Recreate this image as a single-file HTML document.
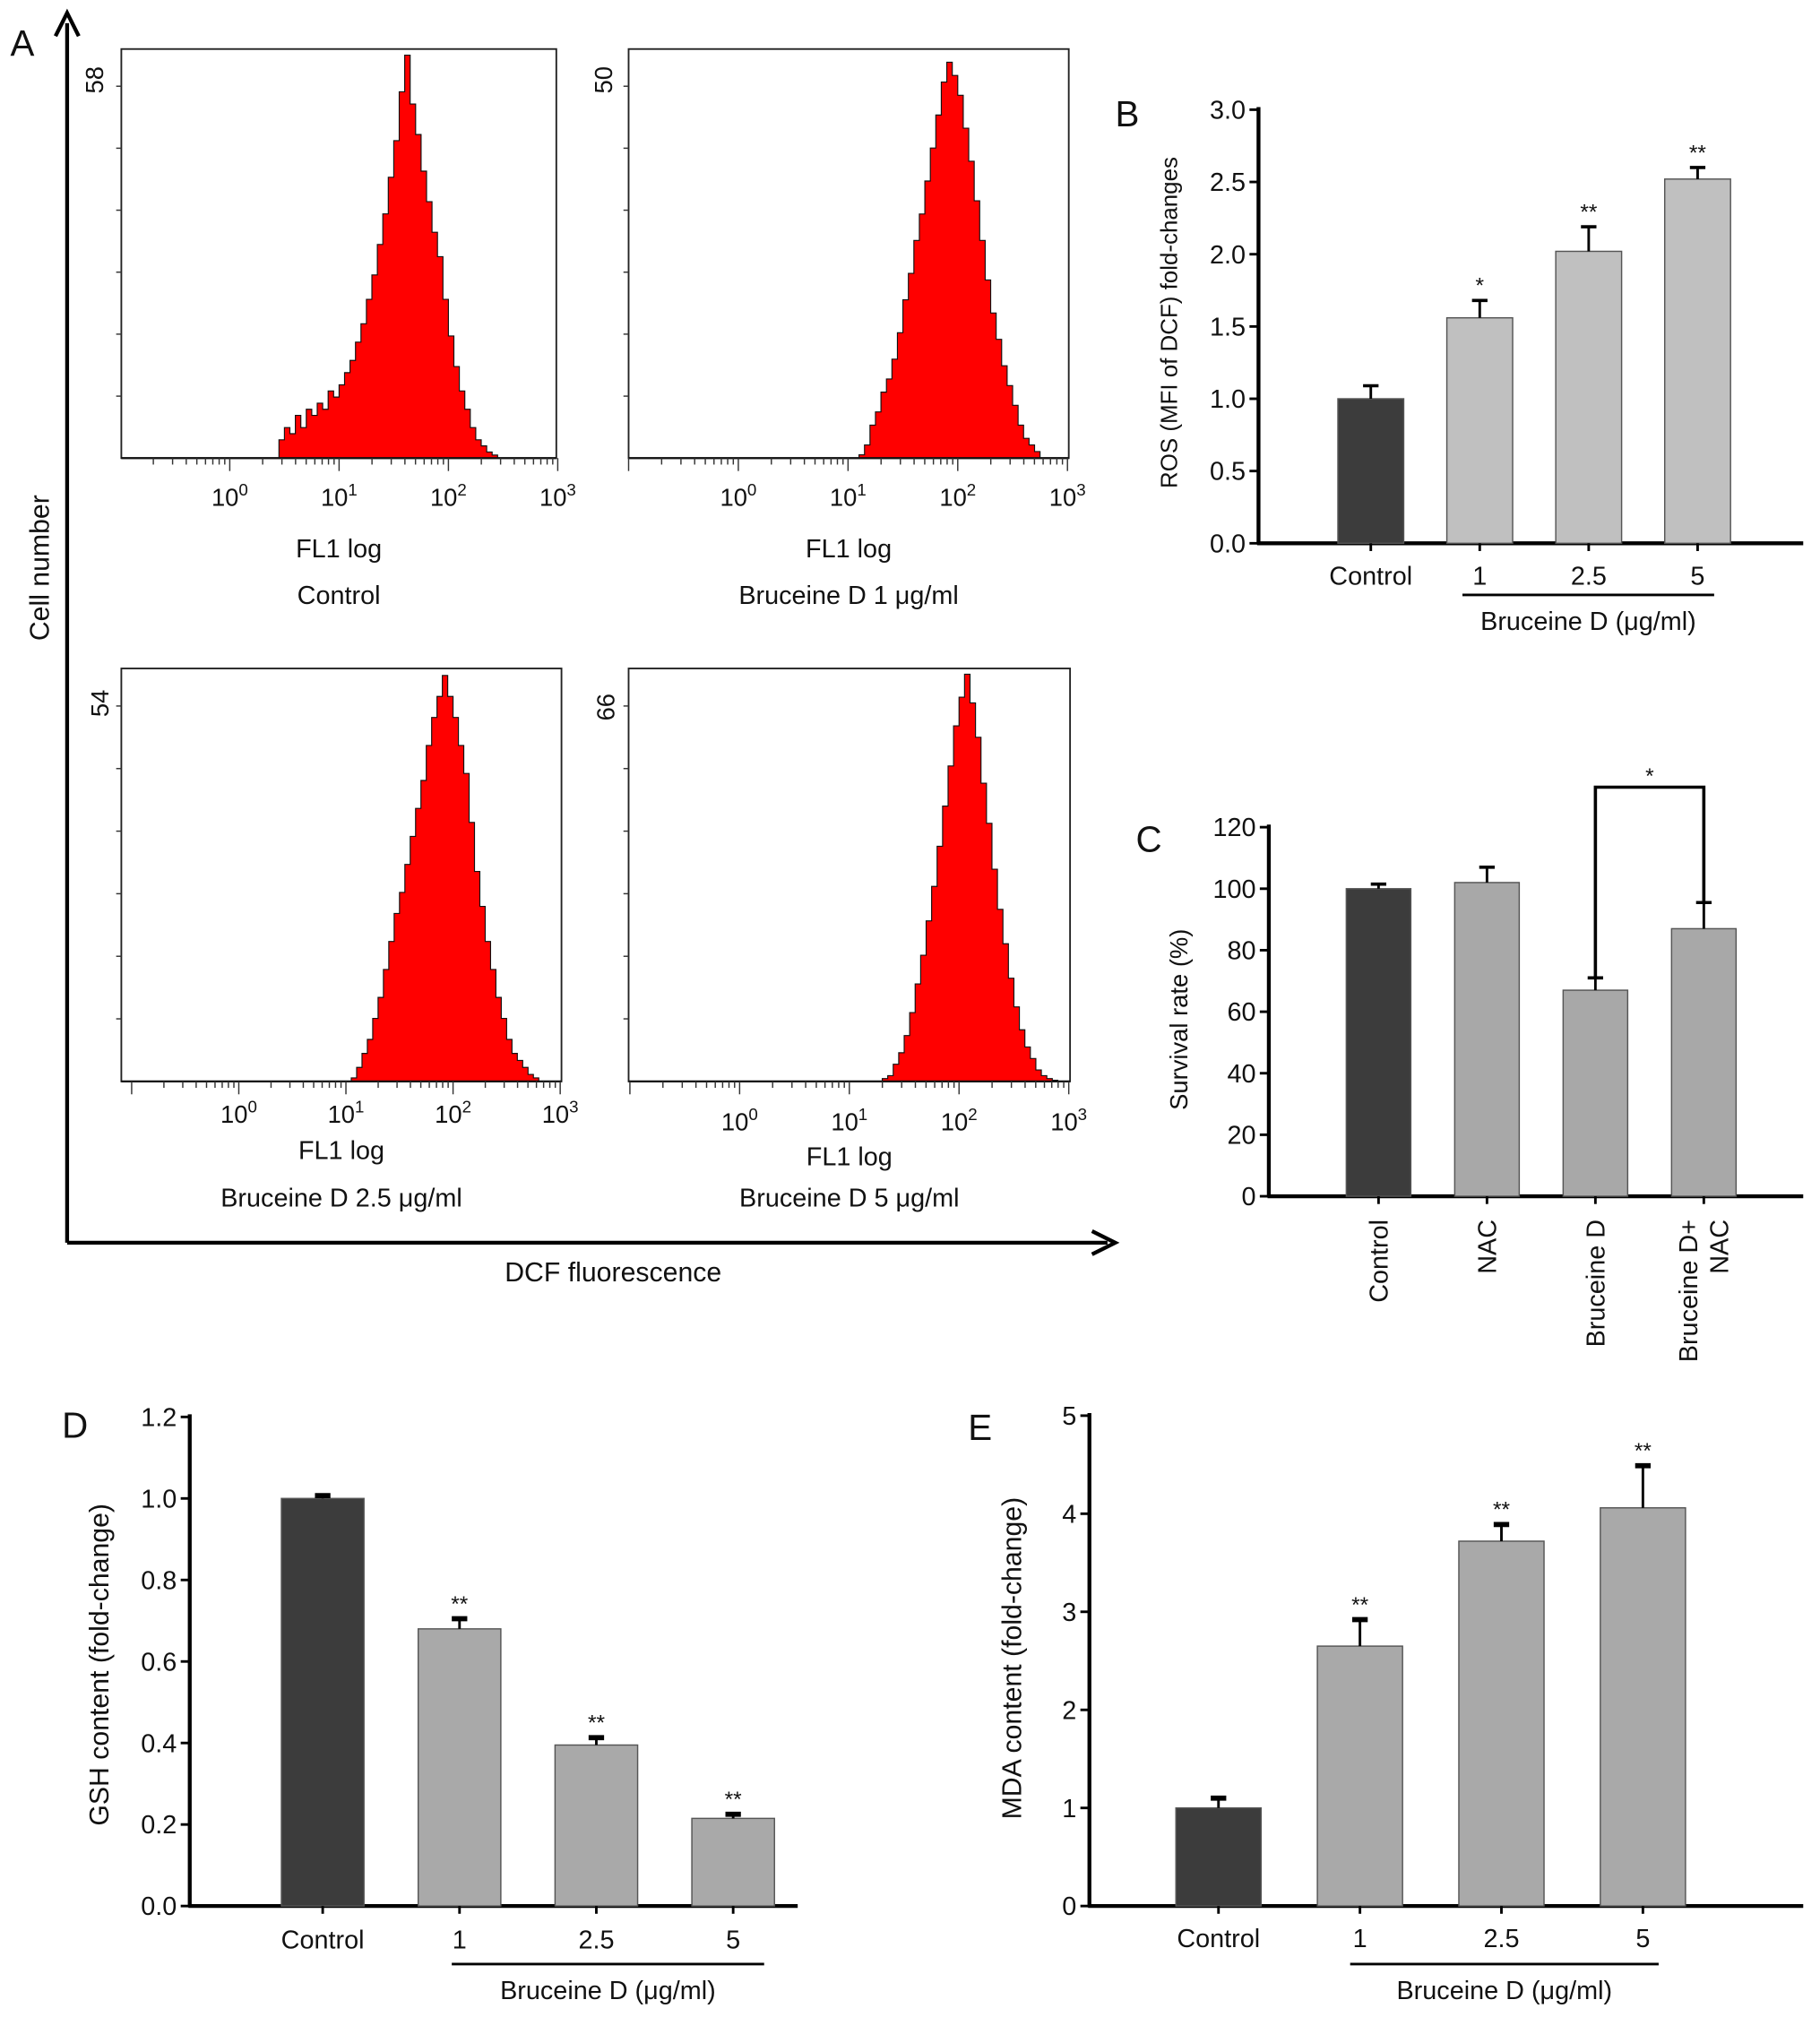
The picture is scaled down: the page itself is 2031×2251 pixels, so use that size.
<!DOCTYPE html>
<html><head><meta charset="utf-8">
<style>
html,body{margin:0;padding:0;background:#fff;}
svg{display:block;}
text{font-family:"Liberation Sans",Arial,sans-serif;fill:#111;}
.n{font-family:"Liberation Sans Narrow","Liberation Sans",sans-serif;}
</style></head>
<body>
<svg id="fig" xmlns="http://www.w3.org/2000/svg" width="2031" height="2251" viewBox="0 0 1410 1563" preserveAspectRatio="none">
  <g>
    <line x1="52" y1="963" x2="52" y2="18" stroke="#000" stroke-width="3"/>
    <path d="M43,28 L52,10 L61,28" fill="none" stroke="#000" stroke-width="3"/>
    <line x1="52" y1="963" x2="858" y2="963" stroke="#000" stroke-width="3"/>
    <path d="M846,954 L864,963 L846,972" fill="none" stroke="#000" stroke-width="3"/>
    <text x="8" y="43" font-size="28">A</text>
    <text transform="translate(38,440) rotate(-90)" text-anchor="middle" font-size="21">Cell number</text>
    <text x="475" y="993" text-anchor="middle" font-size="21">DCF fluorescence</text>
  </g>
  <g id="hists"></g>
  <g id="bars"></g>
</svg>
<script>
// ---------- Histogram data (panel A) ----------
const hist1Start = 0.45, hist1Step = 0.05;
const hist1Counts = [3,5,4,7,5,8,7,9,8,11,10,12,14,16,19,22,26,30,35,40,46,52,60,66,58,53,47,42,37,33,26,20,15,11,8,5,3,2,1,0.5,0];
const hist2Start = 1.1, hist2Step = 0.05;
const hist2Counts = [0.5,2,5,7,10,12,15,19,24,28,33,37,42,47,52,57,60,58,55,50,45,39,33,27,22,18,14,11,8,5,3,2,1,0];
const hist3Start = 1.05, hist3Step = 0.05;
const hist3Counts = [0.5,2,4,6,9,12,16,20,24,27,31,35,39,43,48,52,55,58,55,52,48,44,37,30,25,20,16,12,9,6,4,3,2,1,0.5,0];
const hist4Start = 1.3, hist4Step = 0.05;
const hist4Counts = [0.5,1,3,5,8,12,17,22,28,34,41,48,55,62,67,71,66,60,52,45,37,30,24,18,13,9,6,4,2,1,0.5,0.2,0];
const histYLabels = ["58","50","54","66"];
const histNames = ["Control","Bruceine D 1 μg/ml","Bruceine D 2.5 μg/ml","Bruceine D 5 μg/ml"];
const decadeLabels = ["0","1","2","3"];

// ---------- Bar chart data ----------
const bCats = ["Control","1","2.5","5"];
const bVals = [1.0,1.56,2.02,2.52];
const bErrs = [0.09,0.12,0.17,0.08];
const bStars = ["","*","**","**"];
const bTicks = ["0.0","0.5","1.0","1.5","2.0","2.5","3.0"];

const cCats = ["Control","NAC","Bruceine D","Bruceine D+|NAC"];
const cVals = [100,102,67,87];
const cErrs = [1.5,5,4,8.5];
const cTicks = ["0","20","40","60","80","100","120"];

const dCats = ["Control","1","2.5","5"];
const dVals = [1.0,0.68,0.395,0.215];
const dErrs = [0.007,0.025,0.018,0.01];
const dStars = ["","**","**","**"];
const dTicks = ["0.0","0.2","0.4","0.6","0.8","1.0","1.2"];

const eCats = ["Control","1","2.5","5"];
const eVals = [1.0,2.65,3.72,4.06];
const eErrs = [0.1,0.27,0.17,0.43];
const eStars = ["","**","**","**"];
const eTicks = ["0","1","2","3","4","5"];

const NS="http://www.w3.org/2000/svg";
function mk(tag, attrs, parent, txt){
  const e=document.createElementNS(NS,tag);
  for(const k in attrs) e.setAttribute(k,attrs[k]);
  if(txt!==undefined) e.textContent=txt;
  parent.appendChild(e); return e;
}

// ---------- Histograms ----------
const hg=document.getElementById('hists');
const histCfg=[
  {counts:hist1Counts,start:hist1Start,step:hist1Step,x0:94,x1:431,y0:38,y1:355,dec0:178,decW:84.7,ymax:67,ylab:histYLabels[0],yLabY:62,yLabX:72,name:histNames[0],labY:392,flY:432,nmY:468},
  {counts:hist2Counts,start:hist2Start,step:hist2Step,x0:487,x1:828,y0:38,y1:355,dec0:572,decW:85,ymax:62,ylab:histYLabels[1],yLabY:62,yLabX:466,name:histNames[1],labY:392,flY:432,nmY:468},
  {counts:hist3Counts,start:hist3Start,step:hist3Step,x0:94,x1:435,y0:518,y1:838,dec0:185,decW:83,ymax:59,ylab:histYLabels[2],yLabY:545,yLabX:76,name:histNames[2],labY:870,flY:898,nmY:935},
  {counts:hist4Counts,start:hist4Start,step:hist4Step,x0:487,x1:829,y0:518,y1:838,dec0:573,decW:85,ymax:72,ylab:histYLabels[3],yLabY:548,yLabX:468,name:histNames[3],labY:876,flY:903,nmY:935}
];
histCfg.forEach((c,hi)=>{
  const g=mk('g',{},hg);
  
  
  const xs=l=>c.dec0+l*c.decW;
  const ys=v=>c.y1-(v/c.ymax)*(c.y1-c.y0);
  const box=mk('rect',{x:c.x0,y:c.y0,width:c.x1-c.x0,height:c.y1-c.y0,fill:'none',stroke:'#222','stroke-width':1.3},g);
  
  
  // histogram step path
  let d='M'+xs(c.start)+','+c.y1;
  c.counts.forEach((v,i)=>{
    const l=c.start+i*c.step;
    d+=' L'+xs(l)+','+ys(v)+' L'+xs(l+c.step)+','+ys(v);
  });
  d+=' L'+xs(c.start+c.counts.length*c.step)+','+c.y1+' Z';
  const p=mk('path',{d:d,fill:'#ff0000',stroke:'#111','stroke-width':0.8},g);
  
  
  // bottom axis line thicker
  mk('line',{x1:c.x0,y1:c.y1,x2:c.x1,y2:c.y1,stroke:'#111','stroke-width':1.6},g);
  // log ticks
  for(let dcd=-1; dcd<3; dcd++){
    for(let m=1;m<=9;m++){
      const l=dcd+Math.log10(m);
      const x=xs(l);
      if(x<c.x0-0.5||x>c.x1+0.5) continue;
      mk('line',{x1:x,y1:c.y1,x2:x,y2:c.y1+(m===1?10:5),stroke:'#333','stroke-width':1},g);
    }
  }
  mk('line',{x1:xs(3),y1:c.y1,x2:xs(3),y2:c.y1+10,stroke:'#333','stroke-width':1},g);
  decadeLabels.forEach((lab,i)=>{
    const t=mk('text',{x:xs(i),y:c.labY,'text-anchor':'middle','font-size':19},g);
    mk('tspan',{},t,'10');
    mk('tspan',{dy:-8,'font-size':13},t,lab);
    
    
  });
  // left y ticks
  for(let k=1;k<=6;k++){
    const yv=c.y1-k*(c.y1-c.y0)/6.6;
    mk('line',{x1:c.x0-4,y1:yv,x2:c.x0,y2:yv,stroke:'#333','stroke-width':1},g);
  }
  const yl=mk('text',{transform:'translate('+(c.yLabX+8)+','+c.yLabY+') rotate(-90)','text-anchor':'middle','font-size':19},g,c.ylab);
  
  
  const mid=(c.x0+c.x1)/2;
  const fl=mk('text',{x:mid,y:c.flY,'text-anchor':'middle','font-size':20},g,'FL1 log');
  
  
  const nm=mk('text',{x:mid,y:c.nmY,'text-anchor':'middle','font-size':20},g,c.name);
  
  
});

// ---------- Bar charts ----------
const bg=document.getElementById('bars');
function barChart(o){
  const g=mk('g',{},bg);
  
  
  const ys=v=>o.y0-(v/o.ymax)*(o.y0-o.yTop);
  const cls=o.narrow?'n':'';
  // axes
  mk('line',{x1:o.ax,y1:o.yTop-2,x2:o.ax,y2:o.y0+1,stroke:'#000','stroke-width':3},g);
  mk('line',{x1:o.ax-1,y1:o.y0,x2:o.axEnd,y2:o.y0,stroke:'#000','stroke-width':3},g);
  o.ticks.forEach((t,i)=>{
    const v=i*o.ymax/(o.ticks.length-1);
    const y=ys(v);
    mk('line',{x1:o.ax-7,y1:y,x2:o.ax,y2:y,stroke:'#000','stroke-width':2},g);
    const tx=mk('text',{class:cls,x:o.ax-10,y:y+7,'text-anchor':'end','font-size':20},g,t);
    
    
  });
  o.vals.forEach((v,i)=>{
    const cx=o.c0+i*o.step;
    const top=ys(v);
    const r=mk('rect',{x:cx-o.bw/2,y:top,width:o.bw,height:o.y0-top,fill:i===0?'#3c3c3c':o.light,stroke:'#555','stroke-width':1},g);
    
    
    const et=ys(v+o.errs[i]);
    mk('line',{x1:cx,y1:top,x2:cx,y2:et,stroke:'#000','stroke-width':2},g);
    mk('line',{x1:cx-6,y1:et,x2:cx+6,y2:et,stroke:'#000','stroke-width':o.capW||2.5},g);
    mk('line',{x1:cx,y1:o.y0,x2:cx,y2:o.y0+6,stroke:'#000','stroke-width':2},g);
    if(o.stars&&o.stars[i]){
      const s=mk('text',{x:cx,y:et-6,'text-anchor':'middle','font-size':17,fill:'#555'},g,o.stars[i]);
      
      
    }
    if(o.rotLabels){
      const parts=o.cats[i].split('|');
      parts.forEach((pt,k)=>{
        const t=mk('text',{transform:'translate('+(cx+7+(k-(parts.length-1)/2)*24)+','+(o.y0+18)+') rotate(-90)','text-anchor':'end','font-size':20},g,pt);
        
        
      });
    } else {
      const t=mk('text',{class:cls,x:cx,y:o.labY,'text-anchor':'middle','font-size':20},g,o.cats[i]);
      
      
    }
  });
  if(o.under){
    mk('line',{x1:o.under[0],y1:o.under[1],x2:o.under[2],y2:o.under[1],stroke:'#000','stroke-width':2},g);
    const t=mk('text',{class:cls,x:(o.under[0]+o.under[2])/2,y:o.under[1]+27,'text-anchor':'middle','font-size':20},g,'Bruceine D (μg/ml)');
    
    
  }
  const yt=mk('text',{class:cls,transform:'translate('+o.ytX+','+o.ytY+') rotate(-90)','text-anchor':'middle','font-size':o.ytSize||19},g,o.ytitle);
  
  
  const pl=mk('text',{x:o.pX,y:o.pY,'font-size':28},g,o.panel);
  
  
  return {g,ys};
}
barChart({name:'chart-b',ax:975,y0:421,yTop:85,ymax:3,axEnd:1397,c0:1062,step:84.4,bw:51,vals:bVals,errs:bErrs,stars:bStars,cats:bCats,ticks:bTicks,light:'#c0c0c0',labY:453,under:[1133,461,1328],ytitle:'ROS (MFI of DCF) fold-changes',ytX:912,ytY:250,ytSize:18,panel:'B',pX:864,pY:98});
const C=barChart({name:'chart-c',ax:983,y0:927,yTop:641,ymax:120,axEnd:1397,c0:1068,step:84,bw:50,vals:cVals,errs:cErrs,cats:cCats,ticks:cTicks,light:'#a8a8a8',rotLabels:true,ytitle:'Survival rate (%)',ytX:920,ytY:790,panel:'C',pX:880,pY:660});
// significance bracket in C
(function(){
  const g=C.g;
  const x1=1068+2*84, x2=1068+3*84;
  const yb=610;
  const br=mk('path',{d:'M'+x1+','+C.ys(cVals[2]+cErrs[2])+' L'+x1+','+yb+' L'+x2+','+yb+' L'+x2+','+C.ys(cVals[3]+cErrs[3]),fill:'none',stroke:'#000','stroke-width':2.5},g);
  
  
  const s=mk('text',{x:(x1+x2)/2,y:yb-3,'text-anchor':'middle','font-size':17,fill:'#555'},g,'*');
  
  
})();
barChart({name:'chart-d',narrow:true,ax:147,y0:1477,yTop:1098,ymax:1.2,axEnd:618,c0:250,step:106,bw:64,vals:dVals,errs:dErrs,stars:dStars,cats:dCats,ticks:dTicks,light:'#a9a9a9',labY:1510,under:[350,1522,592],ytitle:'GSH content (fold-change)',ytX:84,ytY:1290,ytSize:21,panel:'D',pX:48,pY:1114,capW:4});
barChart({name:'chart-e',narrow:true,ax:844,y0:1477,yTop:1097,ymax:5,axEnd:1397,c0:944,step:109.6,bw:66,vals:eVals,errs:eErrs,stars:eStars,cats:eCats,ticks:eTicks,light:'#a9a9a9',labY:1509,under:[1046,1522,1285],ytitle:'MDA content (fold-change)',ytX:791,ytY:1285,ytSize:21,panel:'E',pX:750,pY:1116,capW:4});
</script>
</body></html>
